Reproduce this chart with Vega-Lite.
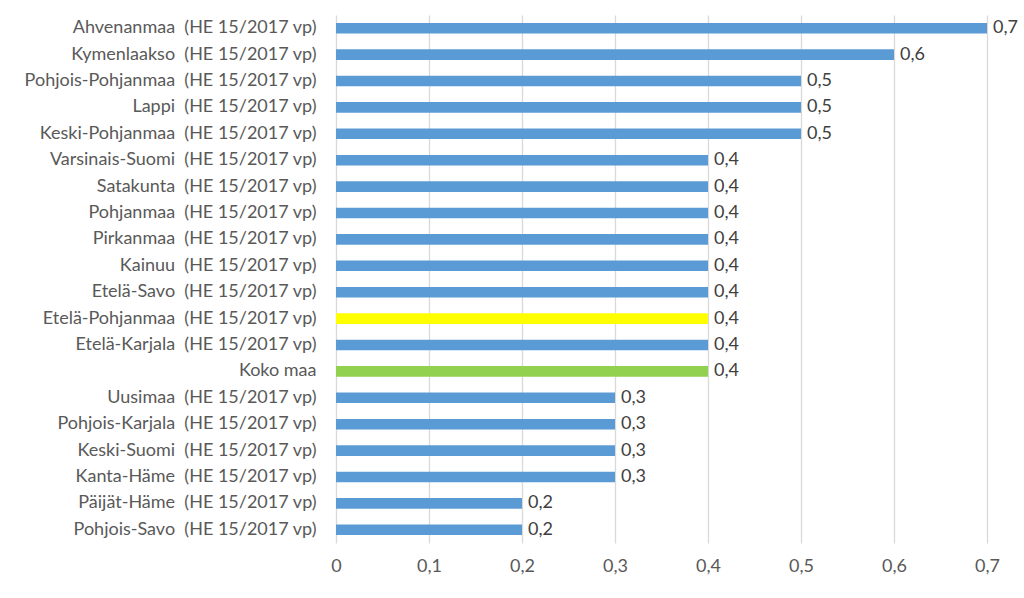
{
  "$schema": "https://vega.github.io/schema/vega-lite/v6.json",
  "width": 651,
  "height": 528,
  "autosize": {"type": "none"},
  "padding": {"left": 336, "top": 15, "right": 37, "bottom": 55},
  "background": "white",
  "config": {
    "locale": {"number": {"decimal": ",", "thousands": " ", "grouping": [3], "currency": ["", " €"]}},
    "view": {"stroke": null},
    "font": "Lato",
    "axis": {"labelFont": "Lato", "labelFontSize": 18, "labelColor": "#595959"}
  },
  "data": {
    "values": [
      {"region": "Ahvenanmaa\u00a0 (HE 15/2017 vp)", "value": 0.7, "kind": "alue"},
      {"region": "Kymenlaakso\u00a0 (HE 15/2017 vp)", "value": 0.6, "kind": "alue"},
      {"region": "Pohjois-Pohjanmaa\u00a0 (HE 15/2017 vp)", "value": 0.5, "kind": "alue"},
      {"region": "Lappi\u00a0 (HE 15/2017 vp)", "value": 0.5, "kind": "alue"},
      {"region": "Keski-Pohjanmaa\u00a0 (HE 15/2017 vp)", "value": 0.5, "kind": "alue"},
      {"region": "Varsinais-Suomi\u00a0 (HE 15/2017 vp)", "value": 0.4, "kind": "alue"},
      {"region": "Satakunta\u00a0 (HE 15/2017 vp)", "value": 0.4, "kind": "alue"},
      {"region": "Pohjanmaa\u00a0 (HE 15/2017 vp)", "value": 0.4, "kind": "alue"},
      {"region": "Pirkanmaa\u00a0 (HE 15/2017 vp)", "value": 0.4, "kind": "alue"},
      {"region": "Kainuu\u00a0 (HE 15/2017 vp)", "value": 0.4, "kind": "alue"},
      {"region": "Etelä-Savo\u00a0 (HE 15/2017 vp)", "value": 0.4, "kind": "alue"},
      {"region": "Etelä-Pohjanmaa\u00a0 (HE 15/2017 vp)", "value": 0.4, "kind": "korostus"},
      {"region": "Etelä-Karjala\u00a0 (HE 15/2017 vp)", "value": 0.4, "kind": "alue"},
      {"region": "Koko maa", "value": 0.4, "kind": "koko maa"},
      {"region": "Uusimaa\u00a0 (HE 15/2017 vp)", "value": 0.3, "kind": "alue"},
      {"region": "Pohjois-Karjala\u00a0 (HE 15/2017 vp)", "value": 0.3, "kind": "alue"},
      {"region": "Keski-Suomi\u00a0 (HE 15/2017 vp)", "value": 0.3, "kind": "alue"},
      {"region": "Kanta-Häme\u00a0 (HE 15/2017 vp)", "value": 0.3, "kind": "alue"},
      {"region": "Päijät-Häme\u00a0 (HE 15/2017 vp)", "value": 0.2, "kind": "alue"},
      {"region": "Pohjois-Savo\u00a0 (HE 15/2017 vp)", "value": 0.2, "kind": "alue"}
    ]
  },
  "encoding": {
    "y": {
      "field": "region", "type": "nominal", "sort": null,
      "scale": {"paddingInner": 0.6, "paddingOuter": 0.3},
      "axis": {"title": null, "domain": false, "ticks": false, "labelPadding": 20, "labelLimit": 400}
    },
    "x": {
      "field": "value", "type": "quantitative",
      "scale": {"domain": [0, 0.7], "nice": false},
      "axis": {"title": null, "domain": false, "ticks": false, "values": [0, 0.1, 0.2, 0.3, 0.4, 0.5, 0.6, 0.7], "labelOverlap": false, "labelFlush": false, "format": ".1~f", "labelPadding": 14, "gridColor": "#d9d9d9", "gridWidth": 1.3}
    }
  },
  "layer": [
    {
      "mark": {"type": "bar"},
      "encoding": {
        "color": {
          "field": "kind", "type": "nominal", "legend": null,
          "scale": {"domain": ["alue", "korostus", "koko maa"], "range": ["#5b9bd5", "#ffff00", "#92d050"]}
        }
      }
    },
    {
      "mark": {"type": "text", "align": "left", "dx": 6, "fontSize": 18, "color": "#404040", "font": "Lato"},
      "encoding": {"text": {"field": "value", "type": "quantitative", "format": ".1~f"}}
    }
  ]
}
